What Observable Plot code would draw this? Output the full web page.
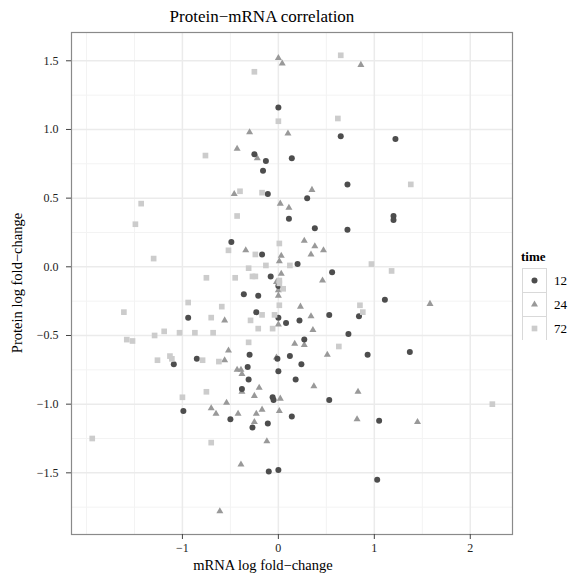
<!DOCTYPE html>
<html><head><meta charset="utf-8">
<script src="https://cdn.jsdelivr.net/npm/d3@7"></script>
<script src="https://cdn.jsdelivr.net/npm/@observablehq/plot@0.6"></script>
<style>
body{margin:0;background:#fff;font-family:"Liberation Serif",serif;}
#wrap{position:relative;width:569px;height:576px;overflow:hidden;}
#chart{position:absolute;left:0;top:0;}
#chart svg{display:block;}
.lab{position:absolute;white-space:nowrap;color:#000;font-family:"Liberation Serif",serif;}
#title{top:7px;left:262px;transform:translateX(-50%);font-size:17px;}
#xlab{top:557px;left:263px;transform:translateX(-50%);font-size:14.5px;}
#ylab{top:283px;left:17px;transform:translate(-50%,-50%) rotate(-90deg);font-size:14.5px;}
#legend{position:absolute;left:515px;top:240px;}
</style>
</head><body>
<div id="wrap">
  <div id="chart"></div>
  <div id="title" class="lab">Protein−mRNA correlation</div>
  <div id="xlab" class="lab">mRNA log fold−change</div>
  <div id="ylab" class="lab">Protein log fold−change</div>
  <svg id="legend" width="54" height="100"></svg>
</div>
<script>
// time groups
const times = ["12", "24", "72"];
const timeColors = ["#4d4d4d", "#999999", "#cccccc"];
const timeSymbols = ["circle", "triangle", "square"];

// time 12 (circles)
const x12 = [0.00, 0.65, -0.25, -0.13, 0.14, -0.16, 0.72, -0.11, 0.30, 1.22,
 -0.94, -1.09, -0.85, 0.11, 0.38, 0.72, -0.49, -0.17, 0.20, 0.56,
 -0.08, 0.00, -0.36, -0.21, -0.23, 0.00, 0.53, 0.84, 0.22, 0.08,
 0.73, 0.27, -0.30, -0.01, 0.12, -0.32, 0.24, 0.00, -0.31, 0.18,
 -0.38, 1.20, 1.20, 1.11, 0.93, 1.37, -0.99, -0.06, -0.05, 0.53,
 -0.50, -0.27, -0.11, 0.14, -0.10, 0.00, 1.05, 1.03];
const y12 = [1.16, 0.95, 0.82, 0.77, 0.79, 0.70, 0.60, 0.53, 0.50, 0.93,
 -0.37, -0.71, -0.67, 0.35, 0.28, 0.27, 0.18, 0.09, 0.02, -0.04,
 -0.07, -0.14, -0.20, -0.21, -0.33, -0.37, -0.35, -0.36, -0.39, -0.41,
 -0.49, -0.53, -0.64, -0.67, -0.65, -0.73, -0.71, -0.76, -0.82, -0.82,
 -0.89, 0.37, 0.34, -0.24, -0.64, -0.62, -1.05, -0.95, -0.97, -0.97,
 -1.11, -1.17, -1.14, -1.09, -1.49, -1.48, -1.12, -1.55];

// time 24 (triangles)
const x24 = [0.00, 0.04, 0.86, -0.30, 0.10, -0.43, -0.22, -0.46, 0.35, 0.02,
 0.11, 0.27, 0.38, -0.34, 0.47, 0.34, 0.03, 0.01, 0.03, 0.46,
 -0.02, 0.00, 0.00, 0.23, 0.34, -0.56, 0.00, 0.36, 0.17, 0.27,
 -0.52, -0.02, 0.51, -0.56, -0.43, -0.39, -0.38, -0.20, 0.37, 0.83,
 -0.38, -0.25, -0.54, 0.02, -0.70, -0.65, -0.42, -0.23, -0.17, -0.25,
 0.01, 0.82, -0.12, -0.39, -0.61, 1.58, 1.45];
const y24 = [1.52, 1.48, 1.47, 0.98, 0.97, 0.86, 0.79, 0.53, 0.56, 0.46,
 0.43, 0.19, 0.15, 0.12, 0.12, 0.09, 0.08, 0.04, -0.05, -0.10,
 -0.11, -0.17, -0.21, -0.29, -0.36, -0.39, -0.42, -0.46, -0.56, -0.57,
 -0.61, -0.66, -0.64, -0.68, -0.75, -0.75, -0.78, -0.88, -0.87, -0.91,
 -0.91, -0.94, -0.99, -0.96, -1.03, -1.07, -1.07, -1.07, -1.04, -1.13,
 -1.05, -1.11, -1.27, -1.44, -1.78, -0.27, -1.13];

// time 72 (squares)
const x72 = [-0.76, -1.43, 0.65, -0.25, 0.00, 0.62, -0.40, -0.17, 1.38, -1.49,
 -1.30, -0.75, -0.94, -1.61, -0.70, -1.19, -1.29, -1.03, -0.87, -0.68,
 -1.58, -1.52, -1.26, -1.13, -1.11, -0.79, -0.43, 0.01, -0.52, -0.24,
 -0.13, 0.12, -0.31, -0.45, -0.27, -0.24, 0.01, 0.01, 0.05, 0.01,
 -0.59, 0.85, 0.88, -0.17, -0.04, -0.29, -0.21, -0.06, -0.31, 0.63,
 -0.62, 0.97, 1.18, -1.00, -0.75, -1.94, -0.70, 2.23];
const y72 = [0.81, 0.46, 1.54, 1.42, 1.06, 1.08, 0.55, 0.54, 0.60, 0.31,
 0.06, -0.08, -0.26, -0.33, -0.37, -0.47, -0.50, -0.48, -0.48, -0.48,
 -0.53, -0.54, -0.68, -0.65, -0.67, -0.68, 0.37, 0.17, 0.12, 0.09,
 0.01, 0.01, -0.01, -0.08, -0.07, -0.07, -0.10, -0.12, -0.16, -0.28,
 -0.29, -0.28, -0.33, -0.35, -0.35, -0.39, -0.45, -0.45, -0.55, -0.58,
 -0.69, 0.02, -0.03, -0.95, -0.91, -1.25, -1.28, -1.00];

// ticks / grid
const xTicks = [-1, 0, 1, 2];
const xMinor = [-2, -1.5, -0.5, 0.5, 1.5];
const yTicks = [-1.5, -1, -0.5, 0, 0.5, 1, 1.5];
const yMinor = [-1.75, -1.25, -0.75, -0.25, 0.25, 0.75, 1.25];

const toRows = (xs, ys, t) => xs.map((x, i) => ({x, y: ys[i], time: t}));
const d12 = toRows(x12, y12, "12");
const d24 = toRows(x24, y24, "24");
const d72 = toRows(x72, y72, "72");

const fmt = d3.format(".1f");

const chart = Plot.plot({
  width: 569, height: 576,
  marginLeft: 71, marginRight: 57, marginTop: 32, marginBottom: 42,
  style: {fontFamily: "Liberation Serif, serif", background: "transparent"},
  x: {domain: [-2.156, 2.44]},
  y: {domain: [-1.949, 1.706]},
  marks: [
    Plot.ruleX(xMinor, {stroke: "#f3f3f3", strokeWidth: 1}),
    Plot.ruleY(yMinor, {stroke: "#f3f3f3", strokeWidth: 1}),
    Plot.ruleX(xTicks, {stroke: "#ebebeb", strokeWidth: 1.5}),
    Plot.ruleY(yTicks, {stroke: "#ebebeb", strokeWidth: 1.5}),
    Plot.dot(d24, {x: "x", y: "y", symbol: () => "triangle", fill: timeColors[1], r: 2.6}),
    Plot.dot(d12, {x: "x", y: "y", symbol: () => "circle", fill: timeColors[0], r: 3}),
    Plot.dot(d72, {x: "x", y: "y", symbol: () => "square", fill: timeColors[2], r: 3.2}),
    Plot.frame({stroke: "#8a8a8a", strokeWidth: 1.2}),
    Plot.axisX(xTicks, {tickSize: 5, tickPadding: 4, fontSize: 12, label: null, stroke: "#444", fill: "#222"}),
    Plot.axisY(yTicks, {tickSize: 5, tickPadding: 8, fontSize: 12, label: null, tickFormat: fmt, stroke: "#444", fill: "#222"})
  ]
});
document.getElementById("chart").appendChild(chart);

// legend
const lg = d3.select("#legend");
lg.append("text").attr("x", 6).attr("y", 21).attr("font-weight", "bold")
  .attr("font-size", 13).attr("font-family", "Liberation Serif, serif").text("time");
const shapeSizes = [3, 2.6, 3.2];
times.forEach((t, i) => {
  const y0 = 28 + i * 24;
  lg.append("rect").attr("x", 7.5).attr("y", y0 + 0.5).attr("width", 24).attr("height", 24)
    .attr("fill", "white").attr("stroke", "#d9d9d9");
  const sym = {circle: d3.symbolCircle, triangle: d3.symbolTriangle, square: d3.symbolSquare}[timeSymbols[i]];
  lg.append("path").attr("d", d3.symbol(sym, Math.PI * shapeSizes[i] ** 2)())
    .attr("transform", `translate(19.5,${y0 + 12.5})`).attr("fill", timeColors[i]);
  lg.append("text").attr("x", 39).attr("y", y0 + 17).attr("font-size", 13)
    .attr("font-family", "Liberation Serif, serif").text(t);
});
</script>
</body></html>
